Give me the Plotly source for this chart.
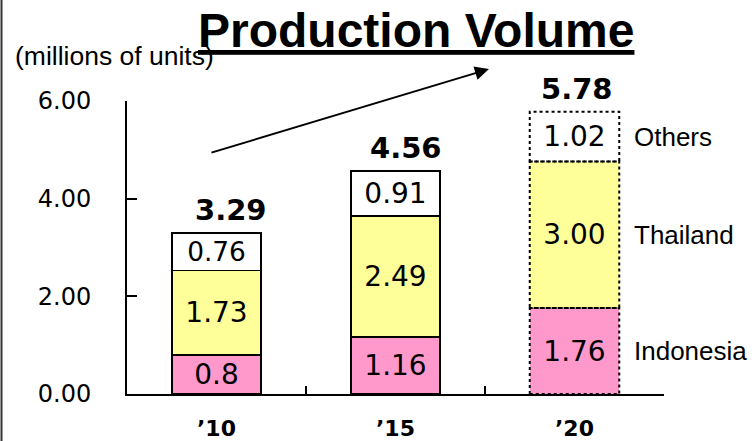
import plotly.graph_objects as go

# Production volume, millions of units
years = ["\u201910", "\u201915", "\u201920"]
indonesia_labels = ["0.8", "1.16", "1.76"]
thailand_labels = ["1.73", "2.49", "3.00"]
others_labels = ["0.76", "0.91", "1.02"]
series_names = ["Indonesia", "Thailand", "Others"]
y_ticks = [0, 2, 4, 6]

indonesia = [float(s) for s in indonesia_labels]
thailand = [float(s) for s in thailand_labels]
others = [float(s) for s in others_labels]
totals = [a + b + c for a, b, c in zip(indonesia, thailand, others)]

# the last year is a forecast: drawn with a dotted outline
forecast_index = 2

colors = ["#FF99CC", "#FFFF99", "#FFFFFF"]
num_font = "DejaVu Sans, Liberation Sans, sans-serif"
txt_font = "Liberation Sans, Arial, sans-serif"

fig = go.Figure()
for name, vals, labels, col in zip(series_names,
                                   [indonesia, thailand, others],
                                   [indonesia_labels, thailand_labels, others_labels],
                                   colors):
    fig.add_trace(go.Bar(
        x=years, y=vals, name=name, text=labels,
        textposition="inside", insidetextanchor="middle",
        textfont=dict(family=num_font, size=28, color="black"),
        textangle=0,
        marker=dict(color=col,
                    line=dict(color="black",
                              width=[0 if i == forecast_index else 1.8
                                     for i in range(len(years))])),
        hoverinfo="skip",
    ))

# dotted outlines around the forecast segments
half = 0.25
base = 0.0
for vals in [indonesia, thailand, others]:
    v = vals[forecast_index]
    fig.add_shape(type="rect", xref="x", yref="y",
                  x0=forecast_index - half, x1=forecast_index + half,
                  y0=base, y1=base + v,
                  line=dict(color="black", width=2, dash="dot"),
                  fillcolor="rgba(0,0,0,0)", layer="above")
    base += v

# totals above each stack
total_dx = [14, 10, 2]
for i, t in enumerate(totals):
    fig.add_annotation(x=years[i], y=t, xref="x", yref="y",
                       text=f"<b>{t:.2f}</b>", showarrow=False,
                       yanchor="bottom", yshift=4, xshift=total_dx[i],
                       font=dict(family=num_font, size=29, color="black"))

# series names next to the last stack
base = 0.0
for name, vals in zip(series_names, [indonesia, thailand, others]):
    v = vals[forecast_index]
    fig.add_annotation(x=forecast_index + half, y=base + v / 2,
                       xref="x", yref="y", text=name, showarrow=False,
                       xanchor="left", yanchor="middle", xshift=13,
                       font=dict(family=txt_font, size=26, color="black"))
    base += v

# title and unit
fig.add_annotation(x=0.539, y=1.239, xref="paper", yref="paper",
                   text="<b><u>Production Volume</u></b>", showarrow=False,
                   xanchor="center", yanchor="middle",
                   font=dict(family=txt_font, size=48, color="black"))
fig.add_annotation(x=-0.2123, y=1.1536, xref="paper", yref="paper",
                   text="(millions of units)", showarrow=False,
                   xanchor="left", yanchor="middle",
                   font=dict(family=txt_font, size=26.5, color="black"))

# growth arrow
fig.add_annotation(x=0.674, y=1.109, xref="paper", yref="paper",
                   ax=-279, ay=84, text="", showarrow=True,
                   arrowhead=2, arrowsize=1.4, arrowwidth=2,
                   arrowcolor="black")

# frame line on the left edge
fig.add_shape(type="line", xref="paper", yref="paper",
              x0=-0.2337, x1=-0.2337, y0=-0.2, y1=1.4,
              line=dict(color="#333333", width=2))

fig.update_layout(
    width=752, height=441,
    margin=dict(l=127, r=88, t=101, b=47),
    barmode="stack", bargap=0.5,
    showlegend=False,
    plot_bgcolor="white", paper_bgcolor="white",
)
fig.update_yaxes(range=[0, 6], tickvals=y_ticks, tickformat=".2f",
                 automargin=False,
                 showgrid=False, zeroline=False,
                 showline=True, linecolor="black", linewidth=2,
                 ticks="inside", ticklen=10, tickwidth=2, tickcolor="black",
                 ticklabelstandoff=29,
                 tickfont=dict(family=num_font, size=24, color="black"))
fig.update_xaxes(range=[-0.5, len(years) - 0.5], automargin=False,
                 showgrid=False, zeroline=False,
                 showline=True, linecolor="black", linewidth=1.5,
                 ticks="inside", ticklen=8, tickwidth=1.5, tickcolor="black",
                 tickson="boundaries", ticklabelstandoff=14,
                 tickfont=dict(family=num_font, size=22, color="black"),
                 tickprefix="<b>", ticksuffix="</b>")

fig.write_html("out.html")
